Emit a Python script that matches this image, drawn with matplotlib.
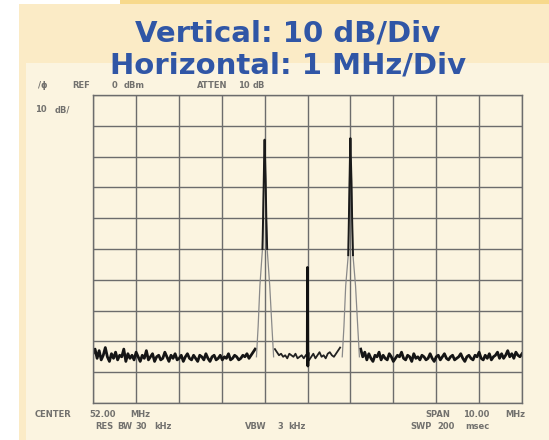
import matplotlib
matplotlib.use("Agg")
import matplotlib.pyplot as plt
from matplotlib.patches import Rectangle
import numpy as np

# spectrum analyzer settings (10 dB/div, 1 MHz/div)
f_start, f_stop = 47.0, 57.0
ref_level, bottom_level = 0, -100

# noise floor, dBm
left_noise = [-84.0, -82.5, -85.5, -83.0, -86.0, -84.5, -82.0, -85.0, -86.5, -84.0,
              -85.5, -83.5, -86.0, -84.5, -85.0, -82.5, -86.5, -84.0, -85.5, -84.5,
              -86.0, -83.5, -85.0, -86.5, -84.5, -85.5, -83.0, -86.0, -85.0, -84.0,
              -86.5, -85.0, -84.5, -86.0, -85.5, -83.5, -85.0, -86.5, -84.5, -85.5,
              -84.0, -86.0, -85.5, -84.5, -86.5, -85.0, -84.0, -85.5, -86.0, -84.5,
              -85.5, -86.5, -84.5, -85.0, -86.0, -84.0, -85.5, -86.5, -85.0, -84.5,
              -86.0, -85.5, -84.5, -86.0, -85.0, -85.5, -84.0, -86.0, -85.5, -84.5,
              -85.0, -86.0, -85.5, -84.5, -85.0, -84.0, -85.5, -84.5, -83.5, -82.5]
mid_noise_a = [-82.5, -83.5, -84.5, -84.0, -85.0, -84.5, -85.5, -84.0,
               -84.5, -85.0, -84.0, -85.5, -85.0, -84.5, -85.5, -84.5]
mid_noise_b = [-86.0, -85.0, -84.0, -85.5, -84.5, -83.5, -85.0, -84.5,
               -85.5, -84.0, -83.5, -84.5, -85.0, -84.0, -83.0, -82.0]
right_noise = [-82.5, -85.0, -83.5, -86.0, -84.0, -85.5, -86.5, -84.5, -85.0, -83.5,
               -86.0, -84.5, -85.5, -86.0, -84.0, -85.0, -86.5, -85.5, -84.5, -85.0,
               -83.5, -85.5, -86.0, -84.5, -85.0, -86.5, -84.0, -85.5, -85.0, -86.0,
               -84.5, -85.0, -86.0, -85.5, -84.0, -85.5, -86.5, -85.0, -84.5, -86.0,
               -85.0, -84.0, -85.5, -86.0, -85.0, -84.5, -86.0, -85.5, -85.0, -84.0,
               -85.5, -86.5, -85.0, -84.5, -85.5, -86.0, -84.5, -85.0, -83.5, -85.5,
               -86.0, -84.5, -85.5, -84.0, -86.0, -85.0, -84.5, -83.5, -85.5, -84.0,
               -85.5, -84.5, -83.0, -85.0, -84.0, -85.5, -83.5, -84.5, -85.0, -84.0]

# carriers
peak_freqs = [51.0, 53.0]
peak_offsets = [-0.19, -0.15, -0.11, -0.05, -0.035, -0.02, -0.01, 0.0,
                0.01, 0.025, 0.04, 0.06, 0.12, 0.17, 0.21]
left_peak = [-85, -75, -62, -50, -40, -28, -20, -14.5, -20, -28, -40, -50, -62, -75, -85]
right_peak = [-85, -75, -62, -52, -40, -28, -20, -14.0, -20, -28, -40, -52, -62, -75, -85]
spike_freq = [51.995, 52.0, 52.008, 52.015]
spike_level = [-84.5, -56.0, -88.0, -84.0]

# screen annotations (word, x px, y px)
screen_words = [("/\u03d5", 38, 86), ("REF", 72, 86), ("0", 112, 86), ("dBm", 124, 86),
                ("ATTEN", 197, 86), ("10", 238, 86), ("dB", 253, 86),
                ("10", 35, 110), ("dB/", 55, 110),
                ("CENTER", 35, 414), ("52.00", 89, 414), ("MHz", 130, 414),
                ("RES", 95, 426), ("BW", 117, 426), ("30", 135, 426), ("kHz", 154, 426),
                ("VBW", 245, 426), ("3", 277, 426), ("kHz", 288, 426),
                ("SPAN", 425, 414), ("10.00", 463, 414), ("MHz", 505, 414),
                ("SWP", 410, 426), ("200", 437, 426), ("msec", 465, 426)]

W, H = 549, 440
fig = plt.figure(figsize=(W / 100, H / 100), dpi=100, facecolor="white")

# background panels
fig.patches.append(Rectangle((120 / W, 1 - 4 / H), 1, 4 / H, transform=fig.transFigure,
                             facecolor="#F7D98C", edgecolor="none", zorder=-10))
fig.patches.append(Rectangle((19 / W, 0), 1, 1 - 4 / H, transform=fig.transFigure,
                             facecolor="#FBEBC6", edgecolor="none", zorder=-10))
fig.patches.append(Rectangle((26 / W, 0), 1, 1 - 63 / H, transform=fig.transFigure,
                             facecolor="#FBF4E0", edgecolor="none", zorder=-10))

# title
fig.text(288 / W, 1 - 42 / H, "Vertical: 10 dB/Div", ha="center", va="baseline",
         fontsize=21, fontweight="bold", color="#3056A6")
fig.text(288 / W, 1 - 74 / H, "Horizontal: 1 MHz/Div", ha="center", va="baseline",
         fontsize=21, fontweight="bold", color="#3056A6")

ax = fig.add_axes([93 / W, 1 - 403 / H, 429 / W, 308 / H])
ax.set_facecolor("none")
ax.set_xlim(f_start, f_stop)
ax.set_ylim(bottom_level, ref_level)
ax.set_xticks(np.arange(f_start, f_stop + 0.5, 1.0))
ax.set_yticks(np.arange(bottom_level, ref_level + 5, 10))
ax.tick_params(length=0, labelbottom=False, labelleft=False)
ax.grid(True, color="#6C6C6C", linewidth=1.0)
for s in ax.spines.values():
    s.set_color("#6C6C6C")
    s.set_linewidth(1.0)

# noise floor
ax.plot(np.linspace(47.0, 50.78, len(left_noise)), left_noise, color="#151515", lw=2.0)
ax.plot(np.linspace(51.24, 51.96, len(mid_noise_a)), mid_noise_a, color="#222222", lw=1.3)
ax.plot(np.linspace(52.04, 52.76, len(mid_noise_b)), mid_noise_b, color="#222222", lw=1.3)
ax.plot(np.linspace(53.24, 57.0, len(right_noise)), right_noise, color="#151515", lw=2.0)

# carriers: faint skirts, dark tops
for fc, lev in zip(peak_freqs, [left_peak, right_peak]):
    fx = np.array(peak_offsets) + fc
    lev = np.array(lev)
    ax.plot(fx, lev, color="#8A8A8A", lw=0.9)
    top = lev > -55
    ax.plot(fx[top], lev[top], color="#1A1A1A", lw=1.4)
ax.plot(spike_freq, spike_level, color="#111111", lw=2.0)

for txt, x, y in screen_words:
    fig.text(x / W, 1 - y / H, txt, ha="left", va="center", fontsize=6,
             fontweight="bold", color="#5A5A5A", alpha=0.85)

fig.savefig("out.png", dpi=100, facecolor=fig.get_facecolor())
